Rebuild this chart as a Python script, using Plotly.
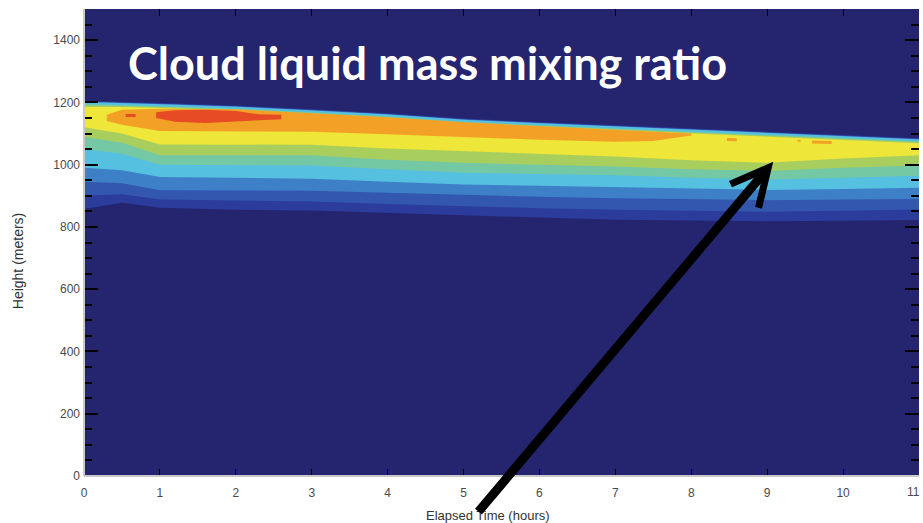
import plotly.graph_objects as go

# ---------------- data ----------------
times = [0, 0.5, 1, 2, 3, 4, 5, 6, 7, 8, 9, 10, 11]  # hours

# lower boundary of each contour level (m)
lower_1 = [858, 878, 862, 855, 853, 845, 836, 830, 823, 820, 818, 820, 822]
lower_2 = [900, 905, 888, 885, 882, 874, 866, 860, 855, 851, 849, 852, 856]
lower_3 = [945, 940, 918, 917, 916, 910, 903, 897, 892, 888, 886, 888, 890]
lower_4 = [990, 982, 960, 957, 955, 945, 936, 932, 928, 922, 919, 922, 926]
lower_5 = [1050, 1035, 1000, 998, 997, 985, 974, 970, 966, 958, 952, 958, 964]
lower_6 = [1090, 1070, 1030, 1030, 1030, 1016, 1006, 1000, 994, 985, 980, 990, 997]
lower_7 = [1120, 1100, 1065, 1065, 1064, 1052, 1043, 1034, 1026, 1014, 1006, 1020, 1030]

# upper boundary of each contour level (m)
upper_1 = [1205, 1202, 1198, 1190, 1178, 1165, 1148, 1137, 1127, 1117, 1106, 1095, 1085]
upper_2 = [1203, 1200, 1196, 1188, 1176, 1163, 1146, 1135, 1125, 1115, 1104, 1093, 1083]
upper_3 = [1202, 1199, 1195, 1187, 1175, 1162, 1145, 1134, 1124, 1114, 1103, 1092, 1082]
upper_4 = [1201, 1198, 1194, 1186, 1174, 1161, 1144, 1133, 1123, 1113, 1102, 1091, 1081]
upper_5 = [1195, 1192, 1188, 1180, 1168, 1155, 1138, 1127, 1117, 1107, 1096, 1085, 1075]
upper_6 = [1191, 1189, 1185, 1177, 1165, 1152, 1135, 1124, 1114, 1104, 1093, 1082, 1072]
upper_7 = [1185, 1185, 1182, 1174, 1162, 1149, 1132, 1121, 1111, 1101, 1090, 1079, 1069]

# orange level (main body + small specks)
orange_times = [0.3, 0.5, 1, 2, 3, 4, 5, 6, 7, 7.5, 8.0]
orange_upper = [1160, 1176, 1180, 1178, 1165, 1152, 1136, 1124, 1112, 1106, 1100]
orange_lower = [1140, 1128, 1108, 1108, 1106, 1098, 1088, 1080, 1074, 1076, 1094]

speck_times = [[8.47, 8.60], [9.40, 9.44], [9.59, 9.85]]
speck_upper = [[1086, 1085], [1080, 1080], [1078, 1076]]
speck_lower = [[1076, 1075], [1074, 1074], [1068, 1066]]

# red level (main body + small spot)
red_times = [0.95, 1.2, 1.6, 2.0, 2.3, 2.6]
red_upper = [1168, 1175, 1176, 1172, 1162, 1160]
red_lower = [1150, 1138, 1134, 1138, 1142, 1146]
red_spot_times = [0.55, 0.68]
red_spot_upper = [1163, 1163]
red_spot_lower = [1153, 1153]

level_colors = ["#2b3c9c", "#3356ae", "#3d80c8", "#56c0e0", "#74c8a4",
                "#a8cf5e", "#eee638", "#f2a126", "#e64b26"]
background = "#25246f"

x_ticks = list(range(0, 11))
y_ticks = list(range(0, 1500, 200))

# ---------------- figure ----------------
fig = go.Figure()


def band(t, lo, up):
    return list(t) + list(t)[::-1], list(lo) + list(up)[::-1]


levels = [
    [(times, lower_1, upper_1)], [(times, lower_2, upper_2)], [(times, lower_3, upper_3)],
    [(times, lower_4, upper_4)], [(times, lower_5, upper_5)], [(times, lower_6, upper_6)],
    [(times, lower_7, upper_7)],
    [(orange_times, orange_lower, orange_upper)] + list(zip(speck_times, speck_lower, speck_upper)),
    [(red_times, red_lower, red_upper), (red_spot_times, red_spot_lower, red_spot_upper)],
]
for parts, col in zip(levels, level_colors):
    xs, ys = [], []
    for t, lo, up in parts:
        bx, by = band(t, lo, up)
        if xs:
            xs.append(None)
            ys.append(None)
        xs += bx
        ys += by
    fig.add_trace(go.Scatter(
        x=xs, y=ys, fill="toself", fillcolor=col, mode="lines",
        line=dict(width=0, color=col), hoverinfo="skip", showlegend=False))

label_family = "Liberation Sans Narrow, Liberation Sans, Arial"
tick_font = dict(family=label_family, size=12, color="#4a4a4a")

fig.update_xaxes(range=[0, 11], tickvals=x_ticks, ticks="inside", ticklen=7,
                 tickcolor="black", tickwidth=1, mirror="ticks", showline=False,
                 showgrid=False, zeroline=False, tickfont=tick_font,
                 ticklabelstandoff=8)
fig.update_yaxes(range=[0, 1500], tickvals=y_ticks, ticks="inside", ticklen=14,
                 tickcolor="black", tickwidth=2, mirror="ticks", showline=False,
                 showgrid=False, zeroline=False, tickfont=tick_font,
                 ticklabelstandoff=3,
                 minor=dict(dtick=50, ticks="inside", ticklen=8, tickcolor="black", tickwidth=2))

fig.update_layout(
    width=923, height=523,
    margin=dict(l=84, r=4, t=9, b=47),
    plot_bgcolor=background, paper_bgcolor="white",
    shapes=[
        dict(type="line", xref="paper", yref="paper", x0=0, x1=1, y0=0, y1=0,
             line=dict(color="#c9c9c9", width=2)),
        dict(type="line", xref="paper", yref="paper", x0=0, x1=0, y0=0, y1=1,
             line=dict(color="#c9c9c9", width=2)),
    ],
    annotations=[
        dict(text="Cloud liquid mass mixing ratio", xref="paper", yref="paper",
             x=0.05, y=0.885, xanchor="left", yanchor="middle", showarrow=False,
             font=dict(family="Lato", size=45, color="white", weight=700)),
        dict(text="11", x=11, xref="x", yref="paper", y=-0.034, yanchor="middle",
             xanchor="right", xshift=3, showarrow=False, font=tick_font),
        dict(text="Elapsed Time (hours)", xref="paper", yref="paper",
             x=0.484, y=-0.085, xanchor="center", yanchor="middle", showarrow=False,
             font=dict(family=label_family, size=13, color="#333333")),
        dict(text="Height (meters)", xref="paper", yref="paper", textangle=-90,
             x=-0.079, y=0.46, xanchor="center", yanchor="middle", showarrow=False,
             font=dict(family=label_family, size=14, color="#333333")),
        dict(x=9.08, y=1009, xref="x", yref="y", ax=5.18, ay=-119, axref="x", ayref="y",
             text="", showarrow=True, arrowhead=5, arrowsize=0.8, arrowwidth=9,
             arrowcolor="black", standoff=0),
    ],
)

fig.write_html("out.html")
